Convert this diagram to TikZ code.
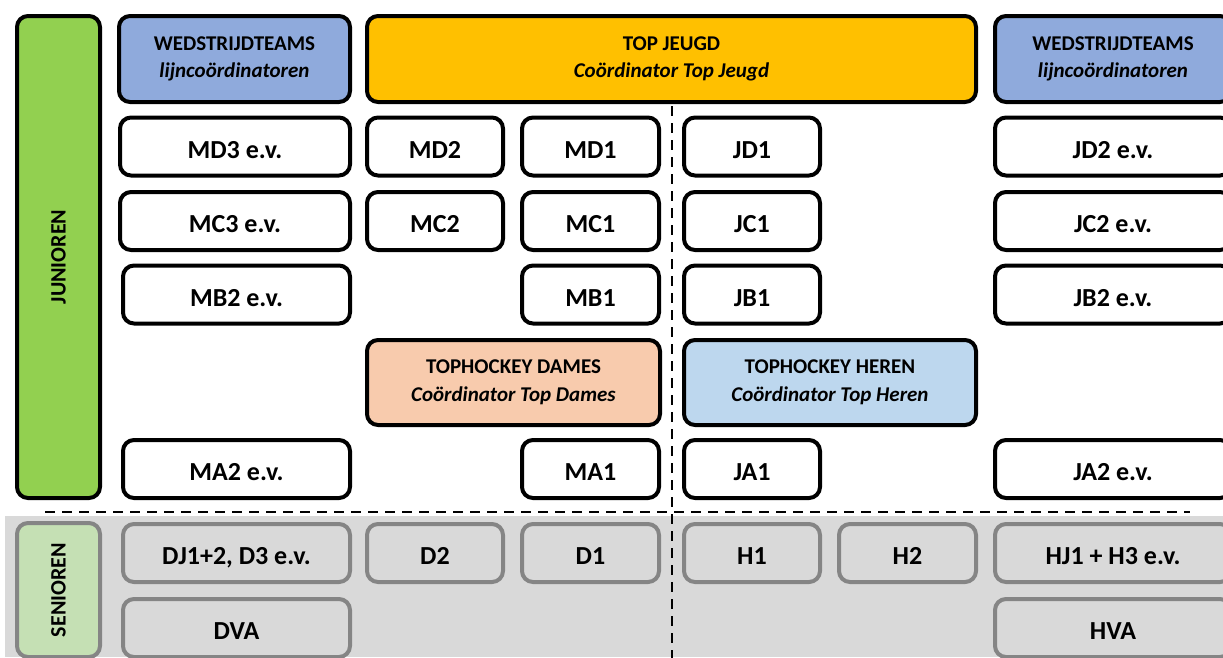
\documentclass[tikz,border=0pt]{standalone}
\usepackage{fontspec}
\setmainfont{Carlito}
\usetikzlibrary{positioning}
\definecolor{jgreen}{HTML}{92D050}
\definecolor{sgreen}{HTML}{C5E0B4}
\definecolor{wblue}{HTML}{8FAADC}
\definecolor{tjorange}{HTML}{FFC000}
\definecolor{dpeach}{HTML}{F8CBAD}
\definecolor{hblue}{HTML}{BDD7EE}
\definecolor{sfill}{HTML}{D9D9D9}
\definecolor{sline}{HTML}{858585}

\begin{document}
\begin{tikzpicture}[x=1pt, y=-1pt,
  box/.style={draw=black, line width=4pt, rounded corners=11pt, fill=white, align=center, inner sep=0pt, font=\fontsize{26}{30}\selectfont\bfseries},
  head/.style={box, minimum height=86pt, font=\fontsize{21}{27.5}\selectfont\bfseries},
  team/.style={box, minimum height=58pt, text height=23pt, text depth=0pt},
  sen/.style={team, draw=sline, fill=sfill},
  divider/.style={line width=2pt, dash pattern=on 10pt off 7pt}]
\useasboundingbox (0,0) rectangle (1223,657);
\fill[sfill] (5,516) rectangle (1223,657);
\node[box, fill=jgreen, rotate=90, minimum width=482pt, minimum height=83pt, font=\fontsize{22}{25}\selectfont\bfseries] (jun) at (58.5,257) {JUNIOREN};
\node[box, draw=sline, fill=sgreen, rotate=90, minimum width=134pt, minimum height=83pt, font=\fontsize{22}{25}\selectfont\bfseries] (sen) at (58.5,590) {SENIOREN};
\node[head, fill=wblue, minimum width=231pt] (WL) at (234.5,59) {WEDSTRIJDTEAMS\\\textit{lijncoördinatoren}};
\node[head, fill=tjorange, minimum width=609pt] (TJ) at (671.5,59) {TOP JEUGD\\\textit{Coördinator Top Jeugd}};
\node[head, fill=wblue, minimum width=236pt] (WR) at (1113,59) {WEDSTRIJDTEAMS\\\textit{lijncoördinatoren}};
\node[head, fill=dpeach, minimum width=293pt, minimum height=85pt] (TD) at (513.5,382.5) {TOPHOCKEY DAMES\\\textit{Coördinator Top Dames}};
\node[head, fill=hblue, minimum width=292pt, minimum height=85pt] (TH) at (830,382.5) {TOPHOCKEY HEREN\\\textit{Coördinator Top Heren}};
\foreach \n/\x/\w/\t in {MD3/235/230/MD3 e.v., MD2/435/136/MD2, MD1/590.5/137/MD1, JD1/752/136/JD1, JD2/1113/236/JD2 e.v.}
  \node[team, minimum width=\w pt] (\n) at (\x,146.5) {\t};
\foreach \n/\x/\w/\t in {MC3/235/230/MC3 e.v., MC2/435/136/MC2, MC1/590.5/137/MC1, JC1/752/136/JC1, JC2/1113/236/JC2 e.v.}
  \node[team, minimum width=\w pt] (\n) at (\x,221) {\t};
\foreach \n/\x/\w/\t in {MB2/236.5/227/MB2 e.v., MB1/590.5/137/MB1, JB1/752/136/JB1, JB2/1113/236/JB2 e.v.}
  \node[team, minimum width=\w pt] (\n) at (\x,294.5) {\t};
\foreach \n/\x/\w/\t in {MA2/236.5/227/MA2 e.v., MA1/590.5/137/MA1, JA1/752/136/JA1, JA2/1113/236/JA2 e.v.}
  \node[team, minimum width=\w pt] (\n) at (\x,469) {\t};
\foreach \n/\x/\w/\t in {DJ/236.5/227/{DJ1+2, D3 e.v.}, D2/435/136/D2, D1/590.5/137/D1, H1/752/136/H1, H2/907.5/137/H2, HJ/1113/236/HJ1 + H3 e.v.}
  \node[sen, minimum width=\w pt] (\n) at (\x,553) {\t};
\node[sen, minimum width=227pt] (DVA) at (236.5,628) {DVA};
\node[sen, minimum width=236pt] (HVA) at (1113,628) {HVA};
\coordinate (hl) at (45,512);
\coordinate (hr) at (1190,512);
\coordinate (vt) at (672,106);
\coordinate (vb) at (672,660);
\draw[divider] (hl) -- (hr);
\draw[divider] (vt) -- (vb);
\end{tikzpicture}
\end{document}
